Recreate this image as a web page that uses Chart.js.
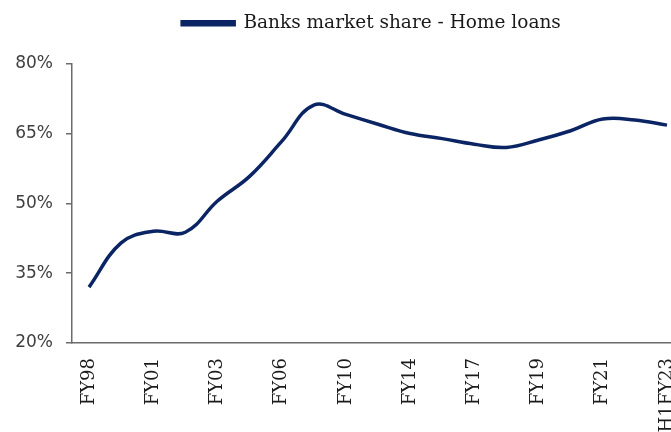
<!DOCTYPE html>
<html>
<head>
<meta charset="utf-8">
<script src="https://cdn.jsdelivr.net/npm/chart.js@4/dist/chart.umd.min.js"></script>
<style>
  html, body { margin: 0; padding: 0; background: #ffffff; }
  #wrap { width: 671px; height: 432px; position: relative; overflow: hidden; }
</style>
</head>
<body>
<div id="wrap"><canvas id="c" width="671" height="432"></canvas></div>
<script>
// Fiscal periods on the x axis (every second one carries a label)
const periods = ['FY98', 'FY00', 'FY01', 'FY02', 'FY03', 'FY05', 'FY06', 'FY08', 'FY10', 'FY12',
                 'FY14', 'FY16', 'FY17', 'FY18', 'FY19', 'FY20', 'FY21', 'FY22', 'H1FY23'];
// Banks' share of home loans, in percent
const bankShare = [32.0, 41.5, 44.0, 43.8, 50.5, 55.8, 63.3, 71.1, 69.1, 67.0,
                   65.0, 63.9, 62.7, 62.0, 63.6, 65.6, 68.1, 67.9, 66.8];
// Value axis ticks
const yTicks = [20, 35, 50, 65, 80];
const seriesName = 'Banks market share - Home loans';

const points = bankShare.map((v, i) => ({ x: i, y: v }));
const labelledIdx = periods.map((_, i) => i).filter(i => i % 2 === 0);

new Chart(document.getElementById('c'), {
  type: 'line',
  data: {
    datasets: [{
      label: seriesName,
      data: points,
      borderColor: '#0b2463',
      backgroundColor: '#0b2463',
      borderWidth: 3.5,
      pointRadius: 0,
      tension: 0.4,
      fill: false
    }]
  },
  options: {
    responsive: false,
    animation: false,
    devicePixelRatio: 1,
    layout: { padding: { top: 4, right: 0, left: 0, bottom: 0 } },
    plugins: {
      tooltip: { enabled: false },
      legend: {
        position: 'top',
        fullSize: false,
        labels: {
          boxWidth: 52,
          boxHeight: 3,
          padding: 10,
          color: '#1a1a1a',
          font: { family: 'DejaVu Serif', size: 18.5 }
        }
      },
      // blank band between the legend and the plot
      title: {
        display: true,
        text: ' ',
        weight: 500,
        font: { size: 1 },
        padding: { top: 0, bottom: 20 }
      }
    },
    scales: {
      x: {
        type: 'linear',
        min: -0.53,
        max: 18.125,
        grid: { display: false, drawTicks: false },
        border: { display: true, color: '#6b6b6b', width: 1.5 },
        afterBuildTicks: s => { s.ticks = labelledIdx.map(v => ({ value: v })); },
        afterFit: s => { s.height = 89; s.paddingLeft = 0; s.paddingRight = 0; },
        ticks: {
          autoSkip: false,
          maxRotation: 90,
          minRotation: 90,
          padding: 15,
          color: '#1a1a1a',
          font: { family: 'DejaVu Serif', size: 18 },
          callback: v => periods[v] || ''
        }
      },
      y: {
        min: 20,
        max: 80,
        afterBuildTicks: s => { s.ticks = yTicks.map(v => ({ value: v })); },
        afterFit: s => { s.width = 72; s.paddingTop = 0; s.paddingBottom = 0; },
        grid: { drawOnChartArea: false, drawTicks: true, tickLength: 6, color: '#6b6b6b', lineWidth: 1.5 },
        border: { display: true, color: '#6b6b6b', width: 1.5 },
        ticks: {
          padding: 13,
          color: '#404040',
          font: { family: 'DejaVu Sans', size: 17 },
          callback: v => v + '%'
        }
      }
    }
  }
});
</script>
</body>
</html>
